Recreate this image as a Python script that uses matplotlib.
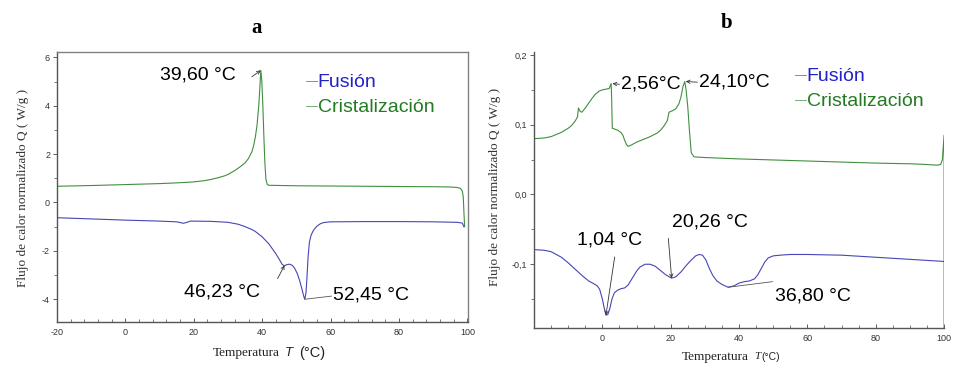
import matplotlib
matplotlib.use("Agg")
import matplotlib.pyplot as plt
from matplotlib.ticker import MultipleLocator, FixedLocator, FuncFormatter
from matplotlib.lines import Line2D

# ---------------- data: panel a ----------------
a_cris_T = [-20, -10, 0, 10, 15, 20, 23, 25, 27, 29, 30, 31, 32, 33, 34, 35, 36, 37, 37.5,
            38, 38.5, 39, 39.3, 39.6, 39.9, 40.2, 40.5, 40.8, 41.1, 41.5, 42, 50, 60, 70, 80,
            90, 95, 97, 98, 98.5, 98.8, 99.0, 99.2]
a_cris_Q = [0.67, 0.70, 0.74, 0.78, 0.81, 0.85, 0.90, 0.95, 1.02, 1.10, 1.16, 1.24, 1.32,
            1.42, 1.52, 1.64, 1.82, 2.10, 2.35, 2.70, 3.20, 4.00, 4.70, 5.46, 5.0, 4.0, 2.7,
            1.6, 0.95, 0.74, 0.71, 0.69, 0.68, 0.67, 0.66, 0.65, 0.64, 0.62, 0.58, 0.48, 0.25,
            -0.4, -1.0]

a_fus_T = [-20, -10, 0, 10, 15, 16, 17, 18, 19, 25, 30, 33, 35, 37, 38, 40, 42, 43, 44,
           45, 45.8, 46.5, 47.2, 48, 48.8, 49.5, 50.3, 51, 51.7, 52.2, 52.45, 52.8, 53.1,
           53.4, 53.8, 54.3, 55, 56, 57, 58, 60, 70, 80, 90, 97, 98.5, 99.0]
a_fus_Q = [-0.63, -0.68, -0.73, -0.77, -0.80, -0.83, -0.86, -0.82, -0.77, -0.78, -0.82,
           -0.90, -1.00, -1.12, -1.20, -1.42, -1.72, -1.92, -2.12, -2.35, -2.55, -2.62,
           -2.57, -2.55, -2.60, -2.72, -2.95, -3.25, -3.62, -3.90, -4.0, -3.75, -3.1, -2.3,
           -1.65, -1.35, -1.15, -0.98, -0.88, -0.83, -0.80, -0.79, -0.79, -0.80, -0.82, -0.85,
           -1.0]

# annotated peaks (panel a)
a_peaks_T = [39.60, 46.23, 52.45]
a_peaks_Q = [5.46, -2.60, -4.0]
a_peaks_lbl = ["39,60 °C", "46,23 °C", "52,45 °C"]

# ---------------- data: panel b ----------------
b_cris_T = [-20, -17, -15, -12, -10, -9, -8, -7.3, -7, -6.5, -6.0, -5, -4, -3, -2, -1, 0,
            1, 2.0, 2.56, 2.7, 2.9, 3.5, 4.5, 5.4, 6.0, 6.5, 7.0, 7.5, 8.5, 10, 12, 14, 16,
            17, 18, 19, 19.5, 20.5, 21.5, 22.4, 23.0, 23.6, 24.1, 24.5, 25.0, 25.5, 26.0,
            26.8, 30, 40, 60, 80, 90, 95, 98, 99.0, 99.5, 100, 100]
b_cris_Q = [0.080, 0.081, 0.083, 0.089, 0.095, 0.099, 0.105, 0.111, 0.124, 0.119, 0.118,
            0.124, 0.131, 0.138, 0.144, 0.148, 0.150, 0.151, 0.152, 0.159, 0.140, 0.095,
            0.094, 0.092, 0.089, 0.085, 0.078, 0.072, 0.069, 0.071, 0.075, 0.079, 0.083,
            0.088, 0.092, 0.098, 0.106, 0.118, 0.120, 0.123, 0.130, 0.140, 0.155, 0.162,
            0.150, 0.125, 0.090, 0.060, 0.054, 0.053, 0.051, 0.048, 0.045, 0.044, 0.043,
            0.042, 0.043, 0.050, 0.085, -0.25]

b_fus_T = [-20, -17, -15, -12, -10, -8, -6, -4, -2.5, -1.5, -0.8, 0, 0.5, 1.04, 1.6, 2.2,
           2.8, 3.5, 4.5, 5.5, 6.5, 7.5, 8.5, 10, 11, 12.5, 14, 15.5, 17, 18.5, 20.26, 21.5,
           23, 24.5, 26, 27.3, 28.3, 29.3, 30.3, 31.3, 32.3, 33.5, 35, 36.8, 38.5, 40, 41.5,
           43, 44.5, 45.5, 46.5, 47.5, 48.5, 50, 52, 55, 60, 70, 80, 90, 100]
b_fus_Q = [-0.079, -0.080, -0.082, -0.090, -0.098, -0.107, -0.116, -0.124, -0.128, -0.131,
           -0.136, -0.150, -0.162, -0.173, -0.172, -0.163, -0.150, -0.141, -0.137, -0.135,
           -0.134, -0.130, -0.122, -0.110, -0.104, -0.100, -0.100, -0.103, -0.109, -0.115,
           -0.120, -0.118, -0.111, -0.102, -0.094, -0.088, -0.086, -0.087, -0.094, -0.106,
           -0.116, -0.124, -0.129, -0.133, -0.131, -0.127, -0.125, -0.124, -0.121, -0.115,
           -0.106, -0.097, -0.091, -0.088, -0.087, -0.086, -0.086, -0.087, -0.090, -0.093,
           -0.096]

b_peaks_T = [2.56, 24.10, 1.04, 20.26, 36.80]
b_peaks_Q = [0.159, 0.162, -0.173, -0.120, -0.133]
b_peaks_lbl = ["2,56°C", "24,10°C", "1,04 °C", "20,26 °C", "36,80 °C"]

series_names = ["Fusión", "Cristalización"]

# ---------------- style ----------------
BLUE = "#4646b4"
GREEN = "#3f8f3f"
BLUE_TXT = "#2222c8"
GREEN_TXT = "#237a23"
SANS = "Liberation Sans"
SERIF = "Liberation Serif"

fig = plt.figure(figsize=(9.68, 3.82), dpi=100)
axA = fig.add_axes([0.0589, 0.1571, 0.4246, 0.7068])
axB = fig.add_axes([0.5517, 0.1414, 0.4236, 0.7225])

comma = FuncFormatter(lambda v, p: ("%g" % v).replace(".", ","))
comma1 = FuncFormatter(lambda v, p: ("%.1f" % v).replace(".", ",").replace("-0,0", "0,0"))

for ax in (axA, axB):
    ax.tick_params(axis="y", which="major", direction="out", length=3, width=0.6,
                   labelsize=6.5, labelcolor="#333333", color="#444444", pad=2)
    ax.tick_params(axis="y", which="minor", direction="out", length=2, width=0.5, color="#444444")
    ax.tick_params(axis="x", which="major", direction="in", length=3, width=0.6,
                   labelsize=6.5, labelcolor="#333333", color="#444444", pad=4)
    ax.tick_params(axis="x", which="minor", direction="in", length=2, width=0.5, color="#444444")
    for s in ("left", "bottom"):
        ax.spines[s].set_color("#555555")
        ax.spines[s].set_linewidth(1.0)
    for lab in ax.get_xticklabels() + ax.get_yticklabels():
        lab.set_fontfamily(SANS)

# ---------------- panel a ----------------
axA.plot(a_cris_T, a_cris_Q, color=GREEN, lw=0.8)
axA.plot(a_fus_T, a_fus_Q, color=BLUE, lw=0.8)
axA.set_xlim(-20, 100.2)
axA.set_ylim(-4.94, 6.22)
axA.xaxis.set_major_locator(MultipleLocator(20))
axA.xaxis.set_minor_locator(MultipleLocator(4))
axA.yaxis.set_major_locator(MultipleLocator(2))
axA.yaxis.set_minor_locator(MultipleLocator(1))
axA.xaxis.set_major_formatter(comma)
axA.yaxis.set_major_formatter(comma)
for s in ("top", "right"):
    axA.spines[s].set_color("#808080")
    axA.spines[s].set_linewidth(1.0)

arr = dict(arrowstyle="->", lw=0.6, color="#333333", shrinkA=0, shrinkB=0, mutation_scale=6)
line = dict(arrowstyle="-", lw=0.6, color="#555555", shrinkA=0, shrinkB=0)
# 39,60
axA.annotate("", xy=(a_peaks_T[0], a_peaks_Q[0]), xytext=(37.0, 5.2), arrowprops=arr)
axA.text(32.3, 5.27, a_peaks_lbl[0], fontsize=14, family=SANS, ha="right", va="center")
# 46,23
axA.annotate("", xy=(a_peaks_T[1] + 0.3, a_peaks_Q[1]), xytext=(44.5, -3.15), arrowprops=arr)
axA.text(17.1, -3.7, a_peaks_lbl[1], fontsize=14, family=SANS, ha="left", va="center")
# 52,45
axA.annotate("", xy=(a_peaks_T[2], a_peaks_Q[2]), xytext=(60.3, -3.87), arrowprops=line)
axA.text(60.6, -3.82, a_peaks_lbl[2], fontsize=14, family=SANS, ha="left", va="center")

handles = [Line2D([], [], color="#7070c0", lw=0.6), Line2D([], [], color="#60a060", lw=0.6)]
legA = axA.legend(handles, series_names, loc="upper left", bbox_to_anchor=(0.582, 0.955),
                  frameon=False, handlelength=0.55, handletextpad=0.05, labelspacing=0.38,
                  borderpad=0, prop={"family": SANS, "size": 14})
for t, c in zip(legA.get_texts(), [BLUE_TXT, GREEN_TXT]):
    t.set_color(c)

axA.set_ylabel("Flujo de calor normalizado Q ( W/g )", family=SERIF, fontsize=9.5, color="#333333")
axA.yaxis.set_label_coords(-0.068, 0.498)
axA.text(0.461, -0.115, "Temperatura", transform=axA.transAxes, family=SERIF, fontsize=9.5,
         ha="center", va="center", color="#222222")
axA.text(0.565, -0.115, "T", transform=axA.transAxes, family=SANS, style="italic", fontsize=9.5,
         ha="center", va="center", color="#222222")
axA.text(0.621, -0.115, "(°C)", transform=axA.transAxes, family=SANS, fontsize=10.5,
         ha="center", va="center", color="#222222")
fig.text(0.2655, 0.927, "a", family=SERIF, weight="bold", fontsize=15, ha="center", va="center")

# ---------------- panel b ----------------
axB.plot(b_cris_T, b_cris_Q, color=GREEN, lw=0.8)
axB.plot(b_fus_T, b_fus_Q, color=BLUE, lw=0.8)
axB.set_xlim(-20, 100)
axB.set_ylim(-0.1914, 0.2043)
axB.xaxis.set_major_locator(FixedLocator([0, 20, 40, 60, 80, 100]))
axB.xaxis.set_minor_locator(MultipleLocator(5))
axB.yaxis.set_major_locator(FixedLocator([-0.1, 0.0, 0.1, 0.2]))
axB.yaxis.set_minor_locator(MultipleLocator(0.05))
axB.xaxis.set_major_formatter(comma)
axB.yaxis.set_major_formatter(comma1)
axB.spines["top"].set_visible(False)
axB.spines["right"].set_visible(False)

# 2,56
axB.annotate("", xy=(b_peaks_T[0] + 0.4, b_peaks_Q[0]), xytext=(5.0, 0.158), arrowprops=arr)
axB.text(5.4, 0.159, b_peaks_lbl[0], fontsize=14, family=SANS, ha="left", va="center")
# 24,10
axB.annotate("", xy=(b_peaks_T[1] + 0.3, b_peaks_Q[1]), xytext=(27.8, 0.161), arrowprops=arr)
axB.text(28.4, 0.161, b_peaks_lbl[1], fontsize=14, family=SANS, ha="left", va="center")
# 1,04
axB.annotate("", xy=(b_peaks_T[2], b_peaks_Q[2]), xytext=(3.6, -0.0895), arrowprops=arr)
axB.text(2.1, -0.0656, b_peaks_lbl[2], fontsize=14, family=SANS, ha="center", va="center")
# 20,26
axB.annotate("", xy=(b_peaks_T[3], b_peaks_Q[3]), xytext=(19.3, -0.063), arrowprops=arr)
axB.text(20.5, -0.039, b_peaks_lbl[3], fontsize=14, family=SANS, ha="left", va="center")
# 36,80
axB.annotate("", xy=(b_peaks_T[4], b_peaks_Q[4]), xytext=(49.8, -0.125), arrowprops=line)
axB.text(50.4, -0.145, b_peaks_lbl[4], fontsize=14, family=SANS, ha="left", va="center")

legB = axB.legend(handles, series_names, loc="upper left", bbox_to_anchor=(0.613, 0.978),
                  frameon=False, handlelength=0.55, handletextpad=0.05, labelspacing=0.38,
                  borderpad=0, prop={"family": SANS, "size": 14})
for t, c in zip(legB.get_texts(), [BLUE_TXT, GREEN_TXT]):
    t.set_color(c)

axB.set_ylabel("Flujo de calor normalizado Q ( W/g )", family=SERIF, fontsize=9.5, color="#333333")
axB.yaxis.set_label_coords(-0.081, 0.512)
axB.text(0.441, -0.105, "Temperatura", transform=axB.transAxes, family=SERIF, fontsize=9.5,
         ha="center", va="center", color="#222222")
axB.text(0.544, -0.105, "T", transform=axB.transAxes, family=SERIF, style="italic", fontsize=8,
         ha="center", va="center", color="#222222")
axB.text(0.578, -0.105, "(°C)", transform=axB.transAxes, family=SANS, fontsize=7.5,
         ha="center", va="center", color="#222222")
fig.text(0.751, 0.94, "b", family=SERIF, weight="bold", fontsize=15, ha="center", va="center")

fig.savefig("out.png", dpi=100, facecolor="white")
